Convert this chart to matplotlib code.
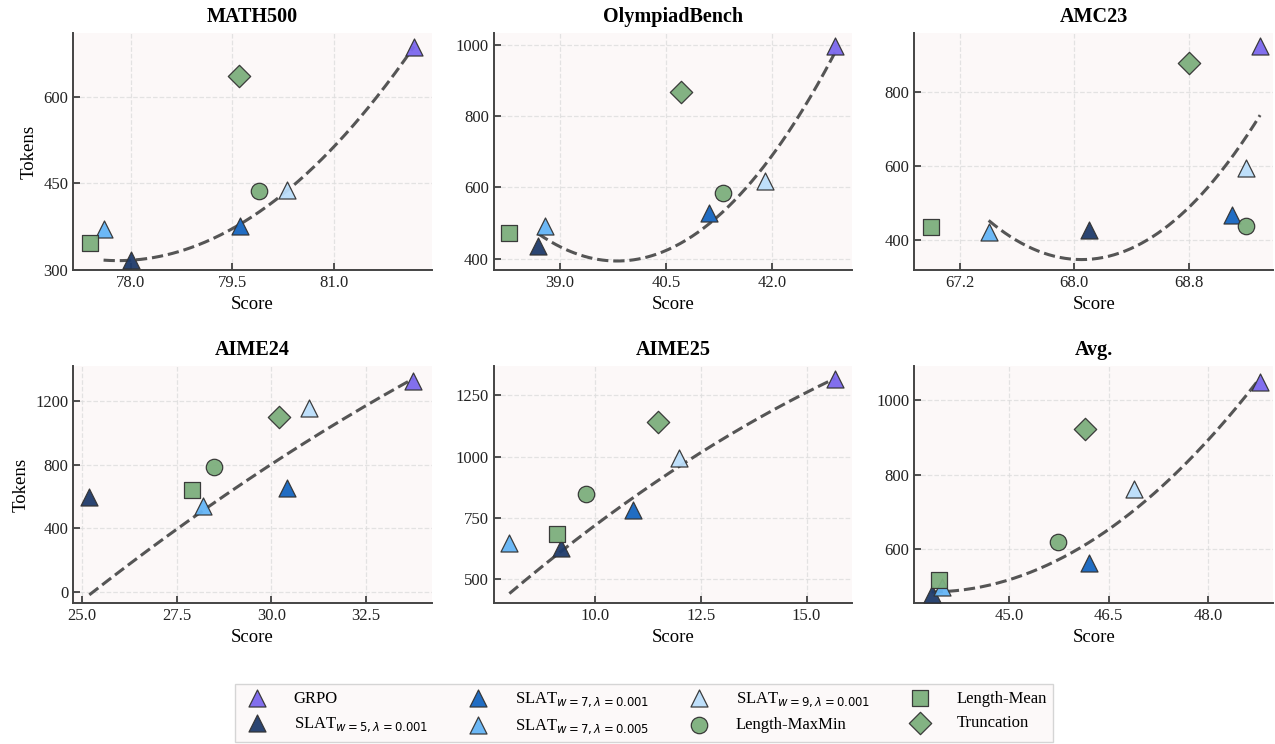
import numpy as np
import matplotlib
matplotlib.use('Agg')
import matplotlib.pyplot as plt
from matplotlib.ticker import FormatStrFormatter, FixedLocator

plt.rcParams['font.family'] = ['Liberation Serif', 'DejaVu Serif']
plt.rcParams['mathtext.fontset'] = 'dejavusans'

# ---------------- data ----------------
benchmarks = ['MATH500', 'OlympiadBench', 'AMC23', 'AIME24', 'AIME25', 'Avg.']

method_labels = ['GRPO',
                 r'SLAT$_{w=5,\lambda=0.001}$',
                 r'SLAT$_{w=7,\lambda=0.001}$',
                 r'SLAT$_{w=7,\lambda=0.005}$',
                 r'SLAT$_{w=9,\lambda=0.001}$',
                 'Length-MaxMin',
                 'Length-Mean',
                 'Truncation']

# scores per benchmark (MATH500, OlympiadBench, AMC23, AIME24, AIME25, Avg.)
score_grpo     = [82.18, 42.90, 69.30, 33.75, 15.68, 48.78]
score_w5_l001  = [78.00, 38.69, 68.10, 25.19,  9.20, 43.83]
score_w7_l001  = [79.61, 41.11, 69.10, 30.40, 10.89, 46.21]
score_w7_l005  = [77.60, 38.79, 67.40, 28.20,  7.98, 43.99]
score_w9_l001  = [80.30, 41.90, 69.20, 30.98, 11.98, 46.89]
score_maxmin   = [79.90, 41.31, 69.20, 28.49,  9.79, 45.73]
score_mean     = [77.40, 38.28, 67.00, 27.89,  9.10, 43.94]
score_trunc    = [79.60, 40.71, 68.80, 30.19, 11.49, 46.15]

# tokens per benchmark
tokens_grpo    = [687,  997, 924, 1321, 1317, 1051]
tokens_w5_l001 = [317,  435, 429,  598,  626,  478]
tokens_w7_l001 = [376,  528, 469,  652,  783,  563]
tokens_w7_l005 = [370,  491, 424,  540,  646,  498]
tokens_w9_l001 = [439,  617, 596, 1154,  996,  761]
tokens_maxmin  = [436,  584, 438,  784,  847,  618]
tokens_mean    = [346,  472, 435,  641,  683,  516]
tokens_trunc   = [636,  869, 879, 1098, 1141,  924]

# tick labels
xticks = [[78.0, 79.5, 81.0], [39.0, 40.5, 42.0], [67.2, 68.0, 68.8],
          [25.0, 27.5, 30.0, 32.5], [10.0, 12.5, 15.0], [45.0, 46.5, 48.0]]
yticks = [[300, 450, 600], [400, 600, 800, 1000], [400, 600, 800],
          [0, 400, 800, 1200], [500, 750, 1000, 1250], [600, 800, 1000]]

scores = [score_grpo, score_w5_l001, score_w7_l001, score_w7_l005,
          score_w9_l001, score_maxmin, score_mean, score_trunc]
tokens = [tokens_grpo, tokens_w5_l001, tokens_w7_l001, tokens_w7_l005,
          tokens_w9_l001, tokens_maxmin, tokens_mean, tokens_trunc]
# methods that define the trade-off curve (GRPO + SLAT variants)
curve_methods = [0, 1, 2, 3, 4]

# ---------------- styles ----------------
colors = ['#7B68EE', '#1F3B6B', '#1565C0', '#64B5F6', '#BBDEFB',
          '#7DAF7D', '#7DAF7D', '#7DAF7D']
markers = ['^', '^', '^', '^', '^', 'o', 's', 'D']
sizes = [150, 150, 150, 150, 150, 140, 140, 130]

xlims = [(77.15, 82.44), (38.06, 43.14), (66.88, 69.39),
         (24.76, 34.23), (7.61, 16.08), (43.57, 48.98)]
ylims = [(300, 710), (369, 1032), (321, 958),
         (-65, 1415), (403, 1369), (455, 1092)]

fig, axes = plt.subplots(2, 3, figsize=(12.75, 7.44), dpi=100)
fig.subplots_adjust(left=0.0573, right=0.9984, top=0.955, bottom=0.19,
                    wspace=0.173, hspace=0.409)


def pareto(xs, ys):
    keep = []
    for i in range(len(xs)):
        dom = False
        for j in range(len(xs)):
            if j == i:
                continue
            if xs[j] >= xs[i] and ys[j] <= ys[i] and (xs[j] > xs[i] or ys[j] < ys[i]):
                dom = True
                break
        if not dom:
            keep.append(i)
    return keep


handles = []
for b, ax in enumerate(axes.flat):
    ax.set_facecolor('#FCF8F8')
    ax.grid(True, linestyle='--', color='#DDDDDD', linewidth=0.9, alpha=0.8)
    ax.set_axisbelow(True)

    # trend curve
    cx = np.array([scores[m][b] for m in curve_methods])
    cy = np.array([tokens[m][b] for m in curve_methods])
    idx = pareto(cx, cy)
    coef = np.polyfit(cx[idx], cy[idx], 2)
    xs = np.linspace(cx.min(), cx.max(), 200)
    ax.plot(xs, np.polyval(coef, xs), linestyle='--', color='#555555',
            linewidth=2.2, zorder=2)

    for m in range(len(method_labels)):
        h = ax.scatter(scores[m][b], tokens[m][b], marker=markers[m], s=sizes[m],
                       color=colors[m], edgecolors='#333333', linewidths=0.9,
                       alpha=0.95, zorder=3, label=method_labels[m])
        if b == 0:
            handles.append(h)

    ax.set_xlim(*xlims[b])
    ax.set_ylim(*ylims[b])
    ax.xaxis.set_major_locator(FixedLocator(xticks[b]))
    ax.yaxis.set_major_locator(FixedLocator(yticks[b]))
    ax.xaxis.set_major_formatter(FormatStrFormatter('%.1f'))
    ax.yaxis.set_major_formatter(FormatStrFormatter('%d'))
    ax.tick_params(direction='in', length=5, width=1.2, labelsize=12,
                   colors='#333333', labelcolor='#222222')
    for sp in ['top', 'right']:
        ax.spines[sp].set_visible(False)
    for sp in ['left', 'bottom']:
        ax.spines[sp].set_color('#444444')
        ax.spines[sp].set_linewidth(1.4)
    ax.set_title(benchmarks[b], fontsize=14.5, fontweight='bold', pad=8)
    ax.set_xlabel('Score', fontsize=13.5, labelpad=4)
    if b % 3 == 0:
        ax.set_ylabel('Tokens', fontsize=13.5, labelpad=4)

leg = fig.legend(handles, method_labels, loc='lower center', ncol=4,
                 bbox_to_anchor=(0.505, -0.008), fontsize=12, frameon=True,
                 fancybox=False, edgecolor='#CCCCCC', facecolor='#FCF8F8',
                 columnspacing=2.0, handletextpad=1.2, borderpad=0.35,
                 labelspacing=0.5)
leg.get_frame().set_linewidth(1.0)

fig.savefig('out.png', dpi=100)
